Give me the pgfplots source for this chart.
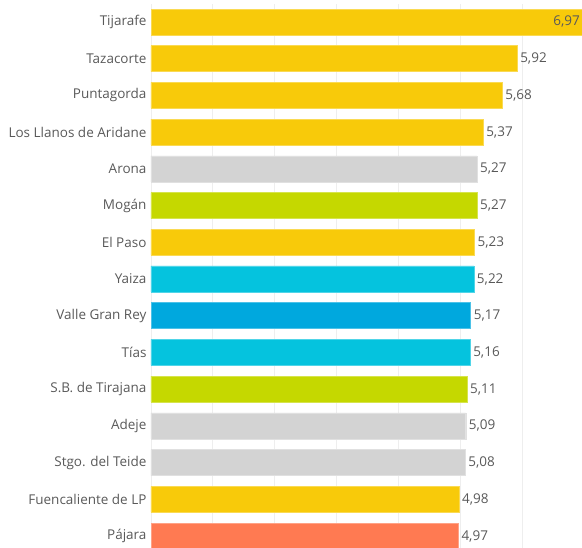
\documentclass[border=0pt]{standalone}
\usepackage{pgfplots}
\pgfplotsset{compat=1.18}
\usepackage{fontspec}
\setmainfont{Open Sans}
\definecolor{cyel}{HTML}{F8CA0A}
\definecolor{cgry}{HTML}{D3D3D3}
\definecolor{clim}{HTML}{C5D800}
\definecolor{ccya}{HTML}{05C3DE}
\definecolor{cblu}{HTML}{00A8DE}
\definecolor{cora}{HTML}{FF7A52}
\definecolor{ctxt}{HTML}{595959}
\definecolor{cgrid}{HTML}{EEEEEE}
\begin{document}
\begin{tikzpicture}
\path[use as bounding box] (-151pt,0pt) rectangle (431pt,548pt);
\begin{axis}[
  anchor=south west, at={(0pt,0pt)},
  scale only axis, width=431pt, height=544pt,
  xmin=0, xmax=6.97, ymin=-0.327, ymax=14.49,
  xbar, bar shift=0pt, bar width=26pt,
  axis line style={draw=none},
  xtick={0,1,...,7}, xticklabels={},
  xmajorgrids, grid style={cgrid, line width=0.8pt},
  ytick={0,...,14},
  yticklabels={P\'ajara,Fuencaliente de LP,Stgo. del Teide,Adeje,S.B. de Tirajana,T\'ias,Valle Gran Rey,Yaiza,El Paso,Mog\'an,Arona,Los Llanos de Aridane,Puntagorda,Tazacorte,Tijarafe},
  major tick length=0pt,
  yticklabel style={font=\fontsize{13.5}{14}\selectfont, text=ctxt, xshift=-1pt},
  point meta=x,
  nodes near coords={\pgfmathprintnumber[assume math mode=true,use comma,fixed,precision=2,fixed zerofill]{\pgfplotspointmeta}},
  nodes near coords style={font=\fontsize{13.5}{14}\selectfont, text=ctxt, anchor=west, inner sep=3pt},
  clip=false,
]
\addplot[fill=cyel, draw=cyel!70!white] coordinates {(5.92,13) (5.68,12) (5.37,11) (5.23,8) (4.98,1)};
\addplot[fill=cgry, draw=cgry!70!white] coordinates {(5.27,10) (5.09,3) (5.08,2)};
\addplot[fill=clim, draw=clim!70!white] coordinates {(5.27,9) (5.11,4)};
\addplot[fill=ccya, draw=ccya!70!white] coordinates {(5.22,7) (5.16,5)};
\addplot[fill=cblu, draw=cblu!70!white] coordinates {(5.17,6)};
\addplot[fill=cora, draw=cora!70!white] coordinates {(4.97,0)};
\addplot[fill=cyel, draw=cyel!70!white, nodes near coords style={anchor=east, inner sep=2pt}] coordinates {(6.97,14)};
\end{axis}
\end{tikzpicture}
\end{document}
